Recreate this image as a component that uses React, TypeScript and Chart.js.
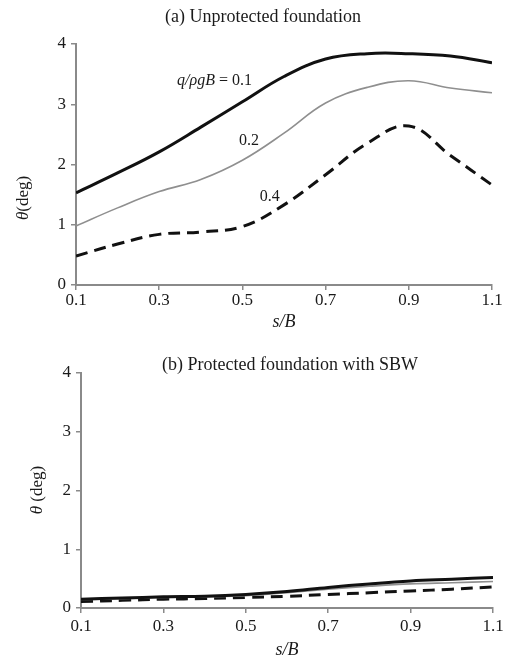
import React, { useEffect, useRef } from 'react';
import { Chart, registerables } from 'chart.js';

Chart.register(...registerables);

// ---- data ----
const sOverB = [0.1, 0.2, 0.3, 0.4, 0.5, 0.6, 0.7, 0.8, 0.9, 1.0, 1.1];
const xTickValues = [0.1, 0.3, 0.5, 0.7, 0.9, 1.1];

const unprotected01 = [1.53, 1.86, 2.21, 2.62, 3.04, 3.46, 3.75, 3.84, 3.84, 3.8, 3.69];
const unprotected02 = [0.98, 1.28, 1.55, 1.75, 2.07, 2.52, 3.02, 3.28, 3.39, 3.27, 3.19];
const unprotected04 = [0.48, 0.68, 0.84, 0.88, 0.97, 1.33, 1.83, 2.35, 2.64, 2.15, 1.66];

const protected01 = [0.15, 0.17, 0.19, 0.2, 0.23, 0.28, 0.35, 0.41, 0.46, 0.49, 0.52];
const protected02 = [0.14, 0.16, 0.18, 0.19, 0.21, 0.26, 0.32, 0.37, 0.41, 0.43, 0.45];
const protected04 = [0.11, 0.13, 0.15, 0.16, 0.18, 0.2, 0.23, 0.26, 0.29, 0.32, 0.36];

const seriesNames = ['q/ρgB = 0.1', 'q/ρgB = 0.2', 'q/ρgB = 0.4'];

const FONT = '"Liberation Serif", "Times New Roman", serif';
const AXIS = '#8a8a8a';
const INK = '#1a1a1a';

function drawParts(ctx: CanvasRenderingContext2D, parts: { t: string; i?: boolean }[], size: number, x: number, y: number, align: 'left' | 'center') {
  let total = 0;
  const widths: number[] = [];
  for (const p of parts) {
    ctx.font = `${p.i ? 'italic ' : ''}${size}px ${FONT}`;
    const w = ctx.measureText(p.t).width;
    widths.push(w);
    total += w;
  }
  let cx = align === 'center' ? x - total / 2 : x;
  ctx.textAlign = 'left';
  ctx.textBaseline = 'middle';
  parts.forEach((p, k) => {
    ctx.font = `${p.i ? 'italic ' : ''}${size}px ${FONT}`;
    ctx.fillText(p.t, cx, y);
    cx += widths[k];
  });
}

const panelText = {
  id: 'panelText',
  afterDraw(chart: any, _args: any, opts: any) {
    const ctx: CanvasRenderingContext2D = chart.ctx;
    const area = chart.chartArea;
    const xs = chart.scales.x;
    const ys = chart.scales.y;
    ctx.save();
    ctx.fillStyle = INK;
    drawParts(ctx, [{ t: opts.title }], 18, opts.titleX, opts.titleY, 'center');
    drawParts(ctx, [{ t: 's/B', i: true }], 18, (area.left + area.right) / 2, area.bottom + opts.xLabelGap, 'center');
    ctx.save();
    ctx.translate(opts.yLabelX, opts.yLabelY);
    ctx.rotate(-Math.PI / 2);
    drawParts(ctx, [{ t: 'θ', i: true }, { t: opts.yLabelGap ? ' (deg)' : '(deg)' }], 17, 0, 0, 'center');
    ctx.restore();
    for (const n of opts.notes || []) {
      drawParts(ctx, n.parts, 16, xs.getPixelForValue(n.x), ys.getPixelForValue(n.y), 'left');
    }
    ctx.restore();
  },
};

function makeConfig(d01: number[], d02: number[], d04: number[], p: any): any {
  const toPts = (arr: number[]) => sOverB.map((s, k) => ({ x: s, y: arr[k] }));
  return {
    type: 'line',
    data: {
      datasets: [
        { label: seriesNames[0], data: toPts(d01), borderColor: '#111', borderWidth: 3, pointRadius: 0, tension: 0.4 },
        { label: seriesNames[1], data: toPts(d02), borderColor: '#8f8f8f', borderWidth: 1.6, pointRadius: 0, tension: 0.4 },
        { label: seriesNames[2], data: toPts(d04), borderColor: '#111', borderWidth: 3, borderDash: [12, 7], pointRadius: 0, tension: 0.4 },
      ],
    },
    options: {
      responsive: false,
      animation: false,
      layout: { padding: { left: 0, right: p.padRight, top: p.padTop, bottom: 0 } },
      plugins: {
        legend: { display: false },
        tooltip: { enabled: false },
        title: { display: false },
        panelText: p.text,
      },
      scales: {
        x: {
          type: 'linear',
          min: 0.1,
          max: 1.1,
          afterFit: (s: any) => { s.height = p.xHeight; },
          afterBuildTicks: (s: any) => { s.ticks = xTickValues.map((v) => ({ value: v })); },
          border: { display: true, color: AXIS, width: 2 },
          grid: { display: true, drawOnChartArea: false, drawTicks: true, tickLength: 5, tickColor: AXIS, lineWidth: 1.5 },
          ticks: { color: INK, font: { family: FONT, size: 17 }, padding: p.xTickPad, maxRotation: 0, callback: (v: number) => v.toFixed(1) },
        },
        y: {
          type: 'linear',
          min: 0,
          max: 4,
          afterFit: (s: any) => { s.width = p.yWidth; },
          border: { display: true, color: AXIS, width: 2 },
          grid: { display: true, drawOnChartArea: false, drawTicks: true, tickLength: 5, tickColor: AXIS, lineWidth: 1.5 },
          ticks: { color: INK, font: { family: FONT, size: 17 }, padding: 5, stepSize: 1, callback: (v: number) => String(v) },
        },
      },
    },
    plugins: [panelText],
  };
}

function Panel({ config, top, height }: { config: any; top: number; height: number }) {
  const ref = useRef<HTMLCanvasElement | null>(null);
  useEffect(() => {
    if (!ref.current) return;
    const chart = new Chart(ref.current, config);
    return () => chart.destroy();
  }, [config]);
  return (
    <canvas
      ref={ref}
      width={510}
      height={height}
      style={{ position: 'absolute', left: 0, top, width: 510, height, display: 'block' }}
    />
  );
}

const configA = makeConfig(unprotected01, unprotected02, unprotected04, {
  padTop: 44,
  padRight: 18,
  xHeight: 45,
  yWidth: 76,
  xTickPad: 0,
  text: {
    title: '(a) Unprotected foundation',
    titleX: 263,
    titleY: 17,
    xLabelGap: 37,
    yLabelX: 24,
    yLabelY: 198,
    yLabelGap: false,
    notes: [
      { x: 0.343, y: 3.39, parts: [{ t: 'q/ρgB', i: true }, { t: ' = 0.1' }] },
      { x: 0.492, y: 2.4, parts: [{ t: '0.2' }] },
      { x: 0.542, y: 1.47, parts: [{ t: '0.4' }] },
    ],
  },
});

const configB = makeConfig(protected01, protected02, protected04, {
  padTop: 43,
  padRight: 17,
  xHeight: 49,
  yWidth: 81,
  xTickPad: 3,
  text: {
    title: '(b) Protected foundation with SBW',
    titleX: 290,
    titleY: 35,
    xLabelGap: 42,
    yLabelX: 38,
    yLabelY: 160,
    yLabelGap: true,
    notes: [],
  },
});

export default function App() {
  return (
    <div style={{ position: 'absolute', left: 0, top: 0, width: 510, height: 657, background: '#fff' }}>
      <Panel config={configA} top={0} height={330} />
      <Panel config={configB} top={330} height={327} />
    </div>
  );
}
